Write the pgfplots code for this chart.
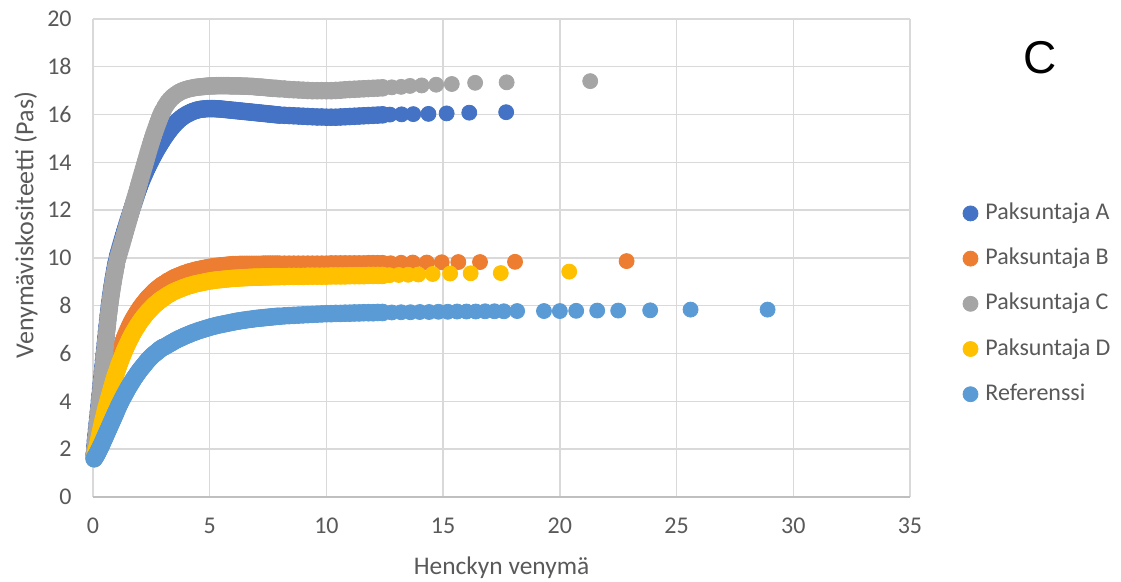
\documentclass[border=0pt]{standalone}
\usepackage{fontspec}
\setmainfont{Carlito}
\newfontfamily\arialfont{Liberation Sans}
\usepackage{pgfplots}
\usepackage{pgfplotstable}
\pgfplotsset{compat=1.18}
\definecolor{cA}{HTML}{4472C4}
\definecolor{cB}{HTML}{ED7D31}
\definecolor{cC}{HTML}{A5A5A5}
\definecolor{cD}{HTML}{FFC000}
\definecolor{cR}{HTML}{5B9BD5}
\definecolor{txt}{HTML}{595959}
\definecolor{gridc}{HTML}{D9D9D9}
\definecolor{axc}{HTML}{BFBFBF}

\pgfplotstableread{
x A B C D R
0.05 1.80 1.65 1.75 1.60 1.60
0.075 2.11 1.75 1.99 1.70 1.64
0.1 2.35 1.85 2.23 1.80 1.68
0.125 2.59 1.95 2.47 1.90 1.72
0.15 2.83 2.05 2.71 2.00 1.76
0.175 3.07 2.15 2.95 2.10 1.80
0.2 3.31 2.25 3.19 2.20 1.85
0.225 3.55 2.36 3.43 2.31 1.90
0.25 3.79 2.47 3.67 2.42 1.95
0.275 4.03 2.58 3.91 2.53 2.00
0.3 4.27 2.69 4.15 2.64 2.05
0.325 4.51 2.82 4.39 2.75 2.10
0.35 4.75 2.95 4.63 2.86 2.15
0.375 4.99 3.08 4.87 2.97 2.20
0.4 5.23 3.20 5.11 3.08 2.26
0.425 5.47 3.32 5.35 3.18 2.31
0.45 5.71 3.44 5.59 3.28 2.37
0.475 5.95 3.56 5.83 3.38 2.42
0.5 6.19 3.68 6.07 3.48 2.48
0.525 6.43 3.80 6.31 3.58 2.53
0.55 6.67 3.91 6.55 3.68 2.59
0.575 6.91 4.02 6.79 3.77 2.64
0.6 7.15 4.12 7.03 3.86 2.70
0.625 7.38 4.22 7.26 3.95 2.75
0.65 7.60 4.32 7.48 4.04 2.81
0.675 7.81 4.41 7.69 4.12 2.86
0.7 8.01 4.50 7.89 4.20 2.92
0.725 8.20 4.60 8.08 4.29 2.97
0.75 8.38 4.71 8.26 4.38 3.03
0.775 8.55 4.81 8.43 4.47 3.08
0.8 8.72 4.91 8.60 4.56 3.14
0.825 8.88 5.00 8.76 4.64 3.19
0.85 9.03 5.10 8.91 4.72 3.25
0.875 9.18 5.20 9.06 4.81 3.30
0.9 9.32 5.29 9.20 4.89 3.36
0.925 9.46 5.38 9.34 4.97 3.41
0.95 9.59 5.47 9.47 5.05 3.47
0.975 9.72 5.55 9.60 5.12 3.52
1.0 9.84 5.64 9.72 5.20 3.58
1.05 10.07 5.79 9.95 5.34 3.69
1.1 10.24 5.96 10.12 5.49 3.80
1.15 10.41 6.10 10.29 5.62 3.90
1.2 10.58 6.25 10.46 5.75 4.00
1.25 10.75 6.39 10.63 5.88 4.10
1.3 10.92 6.52 10.80 6.00 4.19
1.35 11.08 6.65 10.97 6.12 4.28
1.4 11.24 6.77 11.14 6.23 4.37
1.45 11.40 6.89 11.31 6.34 4.46
1.5 11.56 7.00 11.48 6.44 4.55
1.55 11.71 7.11 11.65 6.55 4.63
1.6 11.86 7.21 11.82 6.64 4.71
1.65 12.01 7.31 11.99 6.74 4.79
1.7 12.16 7.40 12.16 6.83 4.87
1.75 12.30 7.49 12.33 6.92 4.95
1.8 12.45 7.57 12.50 7.00 5.02
1.85 12.60 7.65 12.67 7.08 5.09
1.9 12.75 7.73 12.84 7.16 5.16
1.95 12.89 7.80 13.01 7.23 5.23
2.0 13.02 7.88 13.18 7.31 5.30
2.05 13.15 7.95 13.35 7.38 5.36
2.1 13.27 8.01 13.52 7.44 5.42
2.15 13.39 8.08 13.69 7.51 5.48
2.2 13.50 8.14 13.86 7.57 5.54
2.25 13.61 8.20 14.03 7.63 5.60
2.3 13.72 8.26 14.20 7.69 5.66
2.35 13.82 8.32 14.37 7.75 5.72
2.4 13.92 8.37 14.54 7.80 5.77
2.45 14.02 8.42 14.70 7.85 5.82
2.5 14.12 8.47 14.86 7.90 5.87
2.55 14.21 8.52 15.01 7.95 5.92
2.6 14.30 8.57 15.16 8.00 5.96
2.65 14.39 8.62 15.30 8.05 6.00
2.7 14.48 8.66 15.44 8.09 6.04
2.75 14.57 8.70 15.58 8.13 6.08
2.8 14.65 8.74 15.71 8.17 6.12
2.85 14.73 8.78 15.84 8.21 6.16
2.9 14.81 8.82 15.96 8.25 6.20
2.95 14.89 8.85 16.07 8.28 6.23
3.0 14.96 8.89 16.17 8.32 6.26
3.1 15.10 8.95 16.35 8.38 6.30
3.2 15.24 9.02 16.50 8.45 6.36
3.3 15.37 9.07 16.62 8.50 6.42
3.4 15.49 9.13 16.72 8.56 6.47
3.5 15.60 9.18 16.80 8.61 6.53
3.6 15.70 9.22 16.87 8.65 6.58
3.7 15.79 9.26 16.93 8.69 6.63
3.8 15.87 9.30 16.98 8.73 6.67
3.9 15.94 9.34 17.02 8.77 6.72
4.0 16.00 9.37 17.05 8.80 6.76
4.1 16.05 9.41 17.08 8.84 6.80
4.2 16.10 9.43 17.10 8.86 6.84
4.3 16.14 9.46 17.12 8.89 6.88
4.4 16.17 9.49 17.14 8.92 6.91
4.5 16.20 9.51 17.15 8.94 6.95
4.6 16.22 9.53 17.16 8.96 6.98
4.7 16.23 9.55 17.17 8.98 7.01
4.8 16.24 9.57 17.18 9.00 7.04
4.9 16.25 9.59 17.19 9.02 7.07
5.0 16.25 9.61 17.20 9.04 7.10
5.1 16.25 9.62 17.20 9.05 7.13
5.2 16.25 9.64 17.20 9.07 7.15
5.3 16.24 9.65 17.21 9.08 7.18
5.4 16.24 9.66 17.21 9.09 7.20
5.5 16.23 9.67 17.21 9.10 7.22
5.6 16.22 9.68 17.21 9.11 7.24
5.7 16.21 9.69 17.21 9.12 7.26
5.8 16.20 9.70 17.21 9.13 7.28
5.9 16.19 9.71 17.20 9.14 7.30
6.0 16.18 9.72 17.20 9.15 7.32
6.1 16.17 9.72 17.20 9.15 7.34
6.2 16.16 9.72 17.20 9.16 7.36
6.3 16.15 9.73 17.20 9.17 7.37
6.4 16.14 9.73 17.19 9.17 7.39
6.5 16.13 9.73 17.19 9.18 7.40
6.6 16.12 9.73 17.19 9.18 7.42
6.7 16.11 9.73 17.18 9.19 7.43
6.8 16.10 9.73 17.18 9.19 7.44
6.9 16.09 9.73 17.17 9.20 7.46
7.0 16.08 9.73 17.16 9.20 7.47
7.1 16.07 9.73 17.15 9.20 7.48
7.2 16.06 9.73 17.15 9.20 7.49
7.3 16.05 9.74 17.14 9.21 7.50
7.4 16.04 9.74 17.13 9.21 7.51
7.5 16.03 9.74 17.12 9.21 7.52
7.6 16.02 9.74 17.11 9.21 7.53
7.7 16.01 9.74 17.10 9.22 7.54
7.8 16.00 9.74 17.10 9.22 7.55
7.9 15.99 9.74 17.09 9.22 7.56
8.0 15.98 9.74 17.08 9.22 7.56
8.2 15.97 9.74 17.07 9.22 7.58
8.4 15.96 9.74 17.05 9.23 7.59
8.6 15.95 9.74 17.04 9.23 7.60
8.8 15.94 9.74 17.03 9.23 7.61
9.0 15.93 9.74 17.02 9.23 7.62
9.2 15.92 9.74 17.01 9.24 7.63
9.4 15.91 9.74 17.00 9.24 7.64
9.6 15.90 9.74 17.00 9.24 7.65
9.8 15.90 9.74 17.00 9.24 7.66
10.0 15.89 9.74 17.00 9.24 7.67
10.2 15.89 9.75 17.00 9.25 7.67
10.4 15.89 9.75 17.01 9.25 7.68
10.6 15.90 9.75 17.02 9.25 7.68
10.8 15.91 9.75 17.04 9.25 7.69
11.0 15.92 9.75 17.05 9.26 7.69
11.2 15.93 9.75 17.06 9.26 7.70
11.4 15.94 9.75 17.07 9.26 7.70
11.6 15.95 9.75 17.08 9.26 7.71
11.8 15.96 9.76 17.09 9.27 7.71
12.0 15.97 9.76 17.10 9.27 7.71
12.2 15.98 9.76 17.11 9.27 7.72
12.4 15.99 9.76 17.12 9.27 7.72
}\maindata

\pgfplotstableread{
x y
12.72 16.00
13.22 16.01
13.72 16.02
14.37 16.03
15.15 16.05
16.12 16.08
17.70 16.10
}\tailA
\pgfplotstableread{
x y
12.75 9.78
13.20 9.80
13.70 9.81
14.30 9.81
14.94 9.82
15.65 9.83
16.58 9.83
18.08 9.84
22.86 9.87
}\tailB
\pgfplotstableread{
x y
12.80 17.14
13.20 17.16
13.58 17.20
14.08 17.22
14.70 17.25
15.37 17.28
16.37 17.33
17.72 17.35
21.30 17.40
}\tailC
\pgfplotstableread{
x y
12.70 9.28
13.10 9.29
13.50 9.30
13.94 9.31
14.55 9.33
15.30 9.35
16.18 9.36
17.47 9.37
20.40 9.43
}\tailD
\pgfplotstableread{
x y
12.80 7.72
13.20 7.73
13.60 7.73
14.00 7.74
14.40 7.74
14.80 7.75
15.20 7.75
15.60 7.76
16.00 7.76
16.40 7.76
16.80 7.77
17.20 7.77
17.60 7.77
18.17 7.78
19.32 7.78
20.00 7.78
20.70 7.79
21.60 7.80
22.50 7.80
23.87 7.81
25.60 7.84
28.90 7.84
}\tailR

\begin{document}
\begin{tikzpicture}
\path[use as bounding box] (0,0) rectangle (560.5pt,291pt);
\begin{axis}[
  at={(46.5pt,42.5pt)}, anchor=south west,
  scale only axis, width=408.5pt, height=239pt,
  xmin=0, xmax=35, ymin=0, ymax=20,
  xtick={0,5,...,35}, ytick={0,2,...,20},
  grid=major, major grid style={gridc, line width=0.7pt},
  axis x line=bottom, axis y line=left,
  x axis line style={axc, line width=0.8pt, -},
  y axis line style={draw=none},
  major tick length=0pt, tick style={draw=none},
  /pgf/number format/assume math mode=true,
  ticklabel style={font=\fontsize{12}{14}\selectfont, text=txt},
  xticklabel style={anchor=north, inner sep=0pt, yshift=-10.5pt},
  yticklabel style={anchor=east, inner sep=0pt, xshift=-10.5pt},
  xlabel={Henckyn venymä},
  ylabel={Venymäviskositeetti (Pas)},
  xlabel style={font=\fontsize{12.7}{15}\selectfont, text=txt, at={(axis description cs:0.5,-0.163)}, anchor=base},
  ylabel style={font=\fontsize{13}{15}\selectfont, text=txt, at={(axis description cs:-0.082,0.569)}, anchor=center},
  clip=false,
  legend cell align=left,
  legend image code/.code={\draw[#1, mark size=3.75pt] plot coordinates {(0pt,0pt)};},
  legend style={at={(axis description cs:1.0644,0.615)}, anchor=north west,
    draw=none, fill=none, inner sep=0pt, font=\fontsize{12}{14}\selectfont, text=txt,
    row sep=12.6pt, nodes={inner sep=0pt, text height=8pt, text depth=2pt},
    /tikz/every odd column/.append style={column sep=3.7pt}},
  every axis plot/.append style={only marks, mark=*, mark size=4.2pt, mark options={line width=0pt}},
]
\addplot[cA, mark options={fill=cA, draw=cA}] table[x=x, y=A] {\maindata};
\addlegendentry{Paksuntaja A}
\addplot[cA, mark options={fill=cA, draw=cA}, mark size=3.75pt, forget plot] table[x=x, y=y] {\tailA};
\addplot[cB, mark options={fill=cB, draw=cB}] table[x=x, y=B] {\maindata};
\addlegendentry{Paksuntaja B}
\addplot[cB, mark options={fill=cB, draw=cB}, mark size=3.75pt, forget plot] table[x=x, y=y] {\tailB};
\addplot[cC, mark options={fill=cC, draw=cC}] table[x=x, y=C] {\maindata};
\addlegendentry{Paksuntaja C}
\addplot[cC, mark options={fill=cC, draw=cC}, mark size=3.75pt, forget plot] table[x=x, y=y] {\tailC};
\addplot[cD, mark options={fill=cD, draw=cD}] table[x=x, y=D] {\maindata};
\addlegendentry{Paksuntaja D}
\addplot[cD, mark options={fill=cD, draw=cD}, mark size=3.75pt, forget plot] table[x=x, y=y] {\tailD};
\addplot[cR, mark options={fill=cR, draw=cR}] table[x=x, y=R] {\maindata};
\addlegendentry{Referenssi}
\addplot[cR, mark options={fill=cR, draw=cR}, mark size=3.75pt, forget plot] table[x=x, y=y] {\tailR};
\end{axis}
\node[font=\arialfont\fontsize{23}{26}\selectfont, inner sep=0pt, anchor=center] at (520pt,262pt) {C};
\end{tikzpicture}
\end{document}
